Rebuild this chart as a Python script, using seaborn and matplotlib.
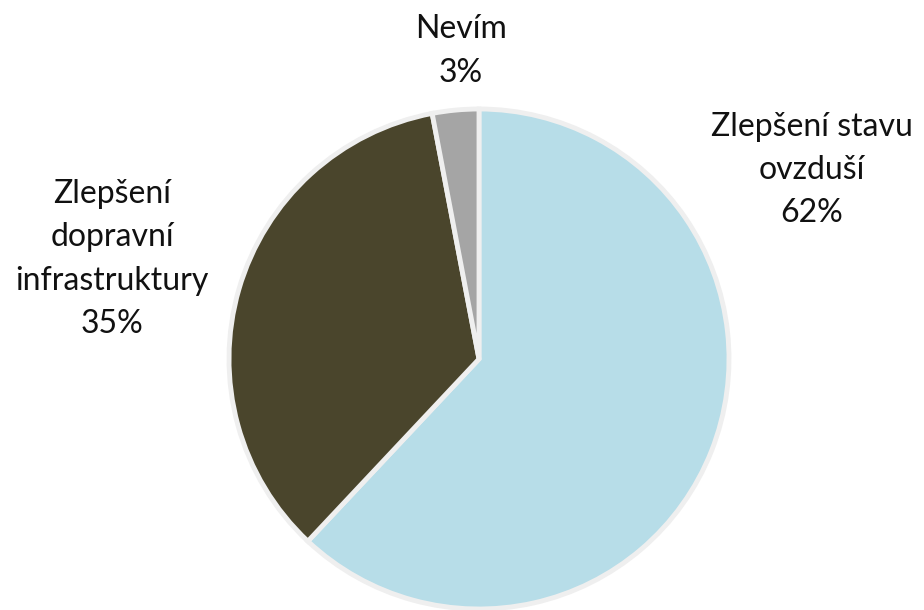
import matplotlib
matplotlib.use("Agg")
import matplotlib.pyplot as plt
import seaborn as sns

categories = ["Zlepšení stavu\novzduší", "Zlepšení\ndopravní\ninfrastruktury", "Nevím"]
values = [62, 35, 3]
colors = ["#B7DDE8", "#4A452C", "#A5A5A5"]
label_pos = [(812, 170), (112, 259), (461, 51)]

sns.set_theme(style="white")
plt.rcParams['font.family'] = ['Lato', 'DejaVu Sans']

W, H = 924, 610
fig = plt.figure(figsize=(W / 100, H / 100), dpi=100)
ax = fig.add_axes([0, 0, 1, 1])
ax.pie(values, colors=colors, startangle=90, counterclock=False,
       center=(479, H - 359), radius=250, frame=False,
       wedgeprops=dict(edgecolor="#EFEFEF", linewidth=3.5))
ax.set_xlim(0, W)
ax.set_ylim(0, H)
ax.set_aspect("equal")
ax.axis("off")

for cat, v, (x, y) in zip(categories, values, label_pos):
    ax.text(x, H - y, f"{cat}\n{v}%", ha="center", va="center",
            fontsize=23, color="#111111", linespacing=1.55)

fig.savefig("out.png", dpi=100)
